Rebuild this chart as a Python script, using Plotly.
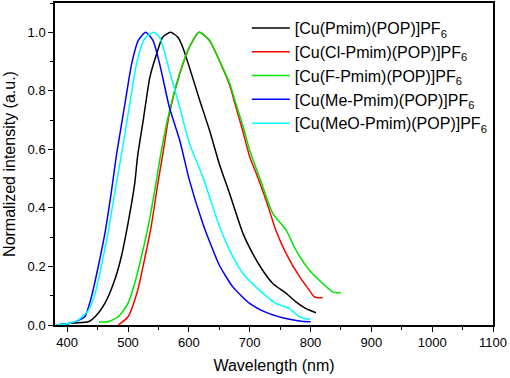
import plotly.graph_objects as go

names = [
    "[Cu(Pmim)(POP)]PF<sub>6</sub>",
    "[Cu(Cl-Pmim)(POP)]PF<sub>6</sub>",
    "[Cu(F-Pmim)(POP)]PF<sub>6</sub>",
    "[Cu(Me-Pmim)(POP)]PF<sub>6</sub>",
    "[Cu(MeO-Pmim)(POP)]PF<sub>6</sub>",
]
colors = ["#000000", "#ff0000", "#00e600", "#0000ff", "#00ffff"]

wl_pmim = [382, 400, 413, 435, 446, 462, 478, 489, 500, 511, 516, 525, 536, 547, 557, 570,
           582, 590, 601, 618, 634, 650, 667, 689, 705, 721, 738, 760, 776, 792, 809]
i_pmim = [0.0, 0.004, 0.007, 0.011, 0.028, 0.074, 0.153, 0.233, 0.347, 0.483, 0.58, 0.699,
          0.847, 0.926, 0.983, 1.0, 0.983, 0.949, 0.88, 0.767, 0.665, 0.551, 0.449,
          0.313, 0.244, 0.188, 0.142, 0.108, 0.079, 0.057, 0.042]

wl_cl = [484, 500, 516, 527, 538, 549, 557, 568, 585, 601, 617, 634, 650, 667, 678, 689,
         700, 711, 727, 743, 760, 782, 798, 806, 812, 820]
i_cl = [0.0, 0.028, 0.119, 0.222, 0.335, 0.483, 0.58, 0.722, 0.858, 0.949, 1.0, 0.972,
        0.904, 0.82, 0.74, 0.66, 0.575, 0.517, 0.426, 0.324, 0.244, 0.165, 0.119, 0.097,
        0.093, 0.093]

wl_f = [452, 467, 484, 500, 511, 522, 533, 544, 555, 568, 585, 601, 617, 634, 650, 667,
        678, 689, 700, 716, 738, 760, 776, 798, 820, 836, 843, 850]
i_f = [0.01, 0.011, 0.028, 0.074, 0.142, 0.233, 0.335, 0.46, 0.597, 0.73, 0.86, 0.95, 1.0,
       0.972, 0.904, 0.826, 0.752, 0.68, 0.597, 0.506, 0.381, 0.324, 0.256, 0.188, 0.142,
       0.114, 0.11, 0.11]

wl_me = [382, 400, 418, 429, 440, 451, 462, 473, 481, 495, 506, 517, 529, 541, 552, 568,
         585, 601, 623, 636, 650, 672, 700, 727, 754, 782, 800]
i_me = [0.0, 0.004, 0.015, 0.028, 0.097, 0.199, 0.313, 0.46, 0.58, 0.756, 0.892, 0.972, 1.0,
        0.972, 0.892, 0.744, 0.631, 0.494, 0.347, 0.275, 0.205, 0.131, 0.074,
        0.043, 0.025, 0.014, 0.011]

wl_meo = [382, 400, 418, 435, 446, 456, 467, 478, 489, 503, 514, 527, 542, 552, 568, 585,
          601, 623, 645, 653, 667, 689, 716, 743, 765, 782, 800]
i_meo = [0.0, 0.004, 0.017, 0.05, 0.108, 0.199, 0.313, 0.449, 0.58, 0.756, 0.892, 0.977,
         1.0, 0.983, 0.869, 0.744, 0.62, 0.506, 0.369, 0.324, 0.256, 0.176, 0.119, 0.074,
         0.057, 0.028, 0.019]

series = [(wl_pmim, i_pmim), (wl_cl, i_cl), (wl_f, i_f), (wl_me, i_me), (wl_meo, i_meo)]

x_ticks = [400, 500, 600, 700, 800, 900, 1000, 1100]
y_ticks = [0.0, 0.2, 0.4, 0.6, 0.8, 1.0]

FONT = "Arial, Liberation Sans, sans-serif"

fig = go.Figure()
for (x, y), n, c in zip(series, names, colors):
    fig.add_trace(go.Scatter(x=x, y=y, mode="lines", name=n,
                             line=dict(color=c, width=1.5, shape="spline", smoothing=0.6)))

axis_common = dict(showline=True, linecolor="black", linewidth=1.5, mirror=True,
                   ticks="outside", ticklen=5, tickwidth=1.2, tickcolor="black",
                   showgrid=False, zeroline=False,
                   tickfont=dict(family=FONT, size=13, color="black"),
                   minor=dict(ticks="outside", ticklen=3, tickwidth=1.2, tickcolor="black"))

fig.update_xaxes(range=[380, 1100], tickvals=x_ticks, **axis_common,
                 title=dict(text="Wavelength (nm)", font=dict(family=FONT, size=16, color="black"), standoff=10))
fig.update_xaxes(minor_dtick=50, minor_tick0=0)
fig.update_yaxes(range=[0, 1.1], tickvals=y_ticks, tickformat=".1f", **axis_common,
                 title=dict(text="Normalized intensity (a.u.)", font=dict(family=FONT, size=16, color="black"), standoff=8))
fig.update_yaxes(minor_dtick=0.1, minor_tick0=0)

fig.update_layout(
    width=510, height=378,
    margin=dict(l=55, r=17, t=3, b=53, autoexpand=False),
    plot_bgcolor="white", paper_bgcolor="white",
    legend=dict(x=0.438, y=0.975, xanchor="left", yanchor="top",
                font=dict(family=FONT, size=16, color="black"),
                bgcolor="rgba(0,0,0,0)", itemwidth=38, tracegroupgap=0),
)
fig.write_html("out.html", config={"displayModeBar": False},
               post_script="document.body.style.margin='0';")
